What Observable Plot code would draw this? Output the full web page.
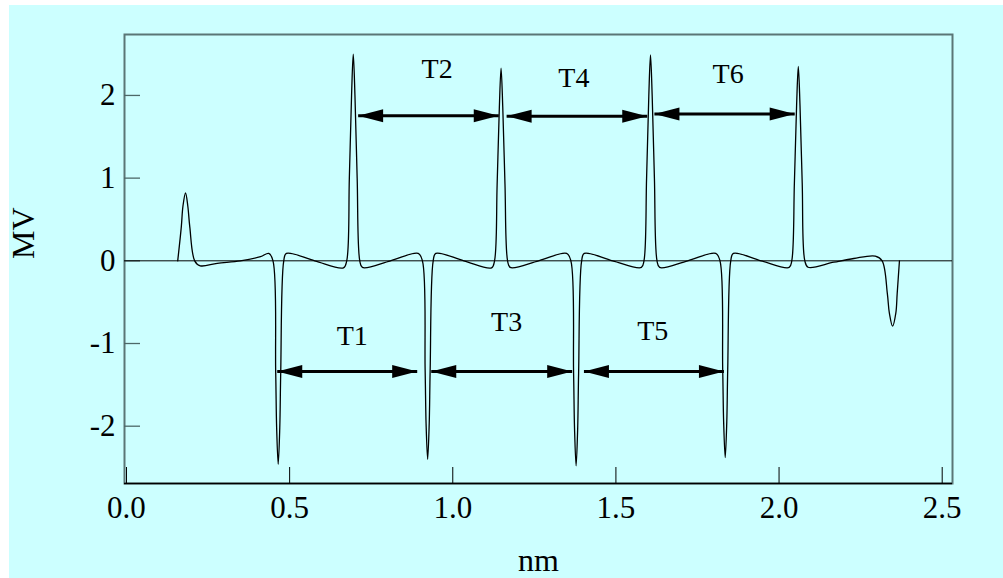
<!DOCTYPE html>
<html>
<head>
<meta charset="utf-8">
<script src="https://cdn.jsdelivr.net/npm/d3@7"></script>
<script src="https://cdn.jsdelivr.net/npm/@observablehq/plot@0.6"></script>
<style>
  html, body { margin: 0; padding: 0; background: #ffffff; }
  #chart { position: absolute; left: 9px; top: 5px; }
  #chart svg { display: block; }
</style>
</head>
<body>
<div id="chart"></div>
<script>
// ---- data ----
const xTicks = [0.0, 0.5, 1.0, 1.5, 2.0, 2.5];
const yTicks = [-2, -1, 0, 1, 2];
const xDomain = [-0.0061, 2.5316];
const yDomain = [-2.693, 2.737];

// waveform (nm, MV)
const waveX = [
  0.157, 0.168, 0.173, 0.181, 0.188, 0.194, 0.209, 0.226, 0.278, 0.349, 0.411, 0.436,
  0.449, 0.4573, 0.4602, 0.465, 0.4698, 0.4727, 0.482, 0.490,
  0.577,
  0.665, 0.675, 0.683, 0.6898, 0.695, 0.7002, 0.707, 0.715, 0.723,
  0.809,
  0.894, 0.907, 0.9153, 0.9182, 0.923, 0.9278, 0.9307, 0.940, 0.948,
  1.034,
  1.119, 1.128, 1.136, 1.1428, 1.148, 1.1532, 1.160, 1.168, 1.176,
  1.263,
  1.349, 1.362, 1.3703, 1.3732, 1.378, 1.3828, 1.3857, 1.395, 1.403,
  1.490,
  1.578, 1.586, 1.594, 1.6008, 1.606, 1.6112, 1.618, 1.626, 1.634,
  1.720,
  1.806, 1.819, 1.8273, 1.8302, 1.835, 1.8398, 1.8427, 1.852, 1.860,
  1.945,
  2.031, 2.039, 2.047, 2.0538, 2.059, 2.0642, 2.071, 2.079, 2.089,
  2.168, 2.229, 2.295, 2.316, 2.332, 2.338, 2.348, 2.358, 2.362, 2.369
];
const waveY = [
  0.0, 0.41, 0.66, 0.82, 0.66, 0.41, 0.0, -0.06, -0.03, 0.0, 0.05, 0.09,
  0.0, -1.35, -2.02, -2.46, -2.02, -1.35, 0.0, 0.09,
  0.0,
  -0.085, 0.0, 1.0, 2.0, 2.50, 2.0, 1.0, 0.0, -0.08,
  0.0,
  0.09, 0.0, -1.32, -1.97, -2.40, -1.97, -1.32, 0.0, 0.09,
  0.0,
  -0.085, 0.0, 0.93, 1.86, 2.33, 1.86, 0.93, 0.0, -0.08,
  0.0,
  0.09, 0.0, -1.36, -2.03, -2.48, -2.03, -1.36, 0.0, 0.09,
  0.0,
  -0.08, 0.0, 1.0, 1.99, 2.49, 1.99, 1.0, 0.0, -0.08,
  0.0,
  0.09, 0.0, -1.31, -1.95, -2.38, -1.95, -1.31, 0.0, 0.09,
  0.0,
  -0.08, 0.0, 0.94, 1.88, 2.35, 1.88, 0.94, 0.0, -0.078,
  -0.017, 0.028, 0.056, 0.0, -0.40, -0.63, -0.79, -0.63, -0.40, 0.0
];

// interval annotations
const intervalLabels = ["T1", "T2", "T3", "T4", "T5", "T6"];
const intervalStart = [0.462, 0.710, 0.934, 1.165, 1.402, 1.618];
const intervalEnd   = [0.891, 1.141, 1.366, 1.596, 1.831, 2.048];
const intervalY     = [-1.339, 1.754, -1.339, 1.749, -1.339, 1.776];
const labelX        = [0.692, 0.952, 1.165, 1.371, 1.613, 1.844];
const labelY        = [-0.910, 2.316, -0.746, 2.205, -0.849, 2.257];

const xLabel = "nm";
const yLabel = "MV";

// ---- build tables ----
const wave = waveX.map((x, i) => ({x, y: waveY[i]}));
const intervals = intervalLabels.map((t, i) => ({
  t, x1: intervalStart[i], x2: intervalEnd[i], y: intervalY[i], lx: labelX[i], ly: labelY[i]
}));

const headRight = {draw(ctx) { ctx.moveTo(0, 0); ctx.lineTo(-25, -6.5); ctx.lineTo(-25, 6.5); ctx.closePath(); }};
const headLeft  = {draw(ctx) { ctx.moveTo(0, 0); ctx.lineTo(25, -6.5); ctx.lineTo(25, 6.5); ctx.closePath(); }};

const W = 994, H = 573;
const mL = 115, mT = 29, mR = 51, mB = 95;
const frameW = W - mL - mR, frameH = H - mT - mB;

const chart = Plot.plot({
  width: W,
  height: H,
  marginLeft: mL,
  marginTop: mT,
  marginRight: mR,
  marginBottom: mB,
  style: {background: "#ccffff", fontFamily: "'Liberation Serif', 'Times New Roman', serif", fontSize: "30px", color: "#000", overflow: "visible"},
  x: {domain: xDomain},
  y: {domain: yDomain},
  marks: [
    Plot.frame({stroke: "#5a7676", strokeWidth: 2}),
    Plot.ruleY([yDomain[0]], {stroke: "#000", strokeWidth: 1.5}),
    Plot.ruleX(xTicks, {x: d => d, insetTop: frameH - 16, stroke: "#000", strokeWidth: 1}),
    Plot.ruleY(yTicks, {y: d => d, insetRight: frameW - 16, stroke: "#4d6868", strokeWidth: 1.3}),
    Plot.axisX({ticks: xTicks, tickSize: 0, tickPadding: 12, tickFormat: d => d.toFixed(1), fontSize: 31, label: null}),
    Plot.axisY({ticks: yTicks, tickSize: 0, tickPadding: 9, tickFormat: d => String(d), fontSize: 31, label: null}),
    Plot.ruleY([0], {stroke: "#000", strokeWidth: 1}),
    Plot.line(wave, {x: "x", y: "y", curve: "catmull-rom", stroke: "#000", strokeWidth: 1.3}),
    Plot.link(intervals, {x1: "x1", x2: "x2", y1: "y", y2: "y", stroke: "#000", strokeWidth: 3}),
    Plot.dot(intervals, {x: "x2", y: "y", symbol: headRight, fill: "#000", stroke: "none"}),
    Plot.dot(intervals, {x: "x1", y: "y", symbol: headLeft, fill: "#000", stroke: "none"}),
    Plot.text(intervals, {x: "lx", y: "ly", text: "t", fontSize: 28, fill: "#000"}),
    Plot.text([xLabel], {frameAnchor: "bottom", dy: 87, lineAnchor: "bottom", fontSize: 32, fill: "#000"}),
    Plot.text([yLabel], {frameAnchor: "left", rotate: -90, dx: -100.7, fontSize: 32, fill: "#000"})
  ]
});
document.getElementById("chart").appendChild(chart);
</script>
</body>
</html>
